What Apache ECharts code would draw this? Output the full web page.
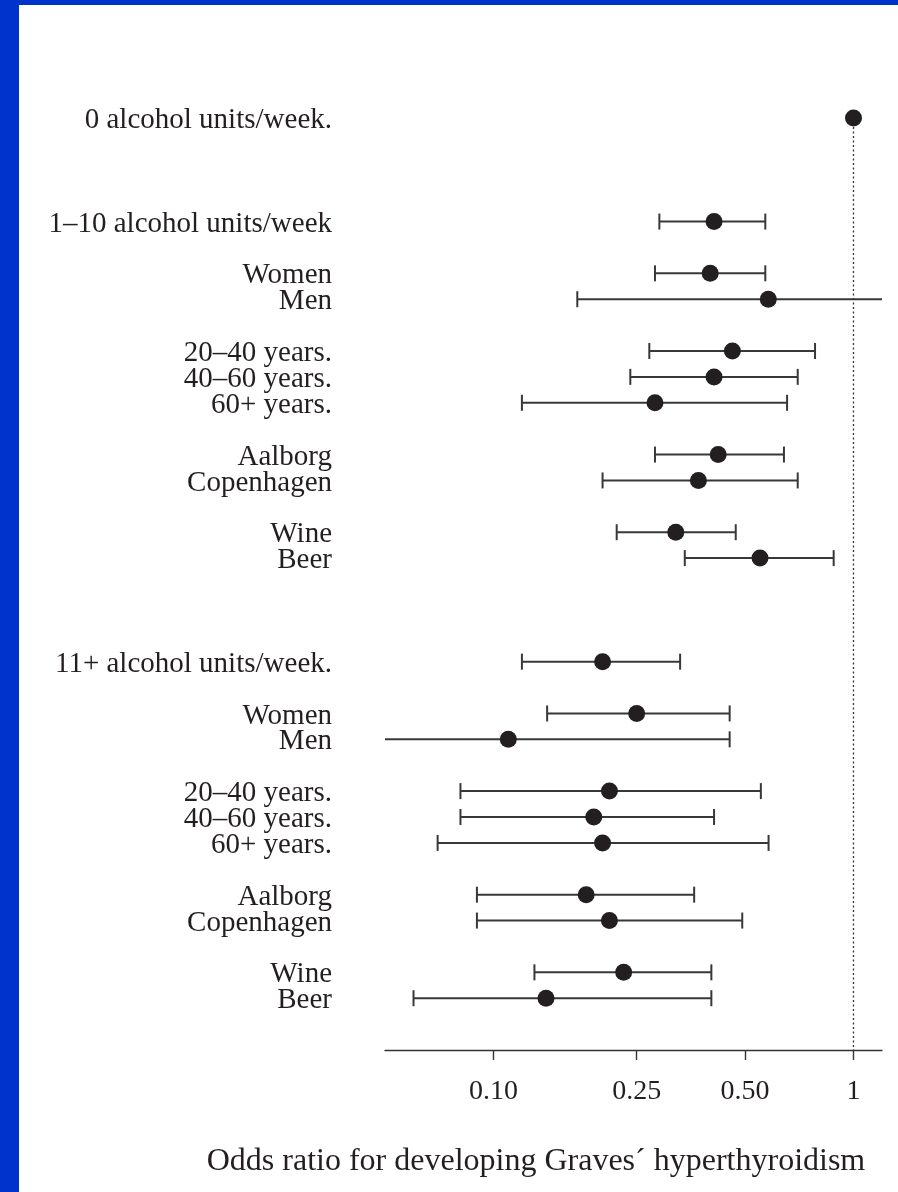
<!DOCTYPE html>
<html>
<head>
<meta charset="utf-8">
<script src="https://cdn.jsdelivr.net/npm/echarts@6/dist/echarts.min.js"></script>
<style>
  html, body { margin: 0; padding: 0; width: 898px; height: 1192px; overflow: hidden; background: #0033cc; }
  #chart { position: absolute; left: 19px; top: 5px; width: 879px; height: 1187px; background: #ffffff; }
</style>
</head>
<body>
<div id="chart"></div>
<script>
// Rows from top to bottom; '' rows are spacers between groups.
const rowLabels = [
  '0 alcohol units/week.', '', '', '',
  '1–10 alcohol units/week', '',
  'Women', 'Men', '',
  '20–40 years.', '40–60 years.', '60+ years.', '',
  'Aalborg', 'Copenhagen', '',
  'Wine', 'Beer', '', '', '',
  '11+ alcohol units/week.', '',
  'Women', 'Men', '',
  '20–40 years.', '40–60 years.', '60+ years.', '',
  'Aalborg', 'Copenhagen', '',
  'Wine', 'Beer', '', ''
];

// Odds ratios and 95% confidence limits, aligned with rowLabels (null = no estimate).
const oddsRatio = [
  1, null, null, null,
  0.410, null,
  0.400, 0.580, null,
  0.461, 0.410, 0.281, null,
  0.421, 0.371, null,
  0.321, 0.550, null, null, null,
  0.201, null,
  0.250, 0.110, null,
  0.210, 0.190, 0.201, null,
  0.181, 0.210, null,
  0.230, 0.140, null, null
];
const lowerCI = [
  null, null, null, null,
  0.289, null,
  0.281, 0.171, null,
  0.271, 0.240, 0.120, null,
  0.281, 0.201, null,
  0.220, 0.340, null, null, null,
  0.120, null,
  0.141, 0.045, null,
  0.081, 0.081, 0.070, null,
  0.090, 0.090, null,
  0.130, 0.060, null, null
];
const upperCI = [
  null, null, null, null,
  0.569, null,
  0.569, 1.350, null,
  0.782, 0.700, 0.654, null,
  0.641, 0.700, null,
  0.471, 0.881, null, null, null,
  0.330, null,
  0.453, 0.453, null,
  0.553, 0.410, 0.581, null,
  0.361, 0.491, null,
  0.403, 0.403, null, null
];

const tickValues = [0.10, 0.25, 0.50, 1];
const tickLabels = ['0.10', '0.25', '0.50', '1'];
const axisMin = 0.05;
const axisMax = 1.2;
const referenceOR = 1;
const axisTitle = 'Odds ratio for developing Graves´ hyperthyroidism';

// The x axis is logarithmic: values are placed on a linear axis in log10 units.
const lg = v => Math.log10(v);
const logTicks = tickValues.map(lg);

const points = [];
const intervals = [];
oddsRatio.forEach((or, i) => {
  if (or != null) points.push([lg(or), i]);
  if (lowerCI[i] != null && upperCI[i] != null) intervals.push([lg(lowerCI[i]), lg(upperCI[i]), i]);
});

const FONT = "'Liberation Serif', 'Times New Roman', serif";
const INK = '#231f20';

const chart = echarts.init(document.getElementById('chart'), null, { renderer: 'canvas' });

chart.setOption({
  animation: false,
  backgroundColor: '#ffffff',
  grid: { left: 366, right: 16, top: 113, bottom: 142, containLabel: false },
  xAxis: {
    type: 'value',
    min: lg(axisMin),
    max: lg(axisMax),
    splitLine: { show: false },
    axisLine: { show: true, onZero: false, lineStyle: { color: '#333333', width: 1.4 } },
    axisTick: { show: true, length: 10, inside: false, customValues: logTicks, lineStyle: { color: '#333333', width: 1.4 } },
    axisLabel: {
      customValues: logTicks,
      margin: 28,
      color: INK,
      fontFamily: FONT,
      fontSize: 28,
      formatter: v => {
        const k = logTicks.findIndex(t => Math.abs(t - v) < 1e-9);
        return k >= 0 ? tickLabels[k] : '';
      }
    }
  },
  yAxis: {
    type: 'category',
    data: rowLabels,
    inverse: true,
    boundaryGap: false,
    axisLine: { show: false },
    axisTick: { show: false },
    splitLine: { show: false },
    axisLabel: {
      interval: 0,
      margin: 53,
      align: 'right',
      formatter: v => (v ? '{row|' + v + '}' : ''),
      rich: {
        row: {
          color: INK,
          fontFamily: FONT,
          fontSize: 29,
          lineHeight: 29,
          padding: [5, 0, 0, 0]
        }
      }
    }
  },
  graphic: [{
    type: 'text',
    x: 517,
    y: 1157,
    style: {
      text: axisTitle,
      fill: INK,
      font: "32px 'Liberation Serif', 'Times New Roman', serif",
      textAlign: 'center',
      textVerticalAlign: 'middle'
    }
  }],
  series: [
    {
      // no-effect reference line at OR = 1
      type: 'line',
      data: [[lg(referenceOR), 0], [lg(referenceOR), rowLabels.length - 1]],
      symbol: 'none',
      silent: true,
      z: 1,
      lineStyle: { color: '#333333', width: 1.3, type: [2, 2.5] }
    },
    {
      // confidence intervals with end caps, clipped to the plot area
      type: 'custom',
      data: intervals,
      encode: { x: [0, 1], y: 2 },
      z: 2,
      renderItem: (params, api) => {
        const a = api.coord([api.value(0), api.value(2)]);
        const b = api.coord([api.value(1), api.value(2)]);
        const cs = params.coordSys;
        const x0 = Math.max(a[0], cs.x);
        const x1 = Math.min(b[0], cs.x + cs.width);
        const y = a[1];
        const style = { stroke: '#383838', lineWidth: 2 };
        const cap = 8;
        const children = [{ type: 'line', shape: { x1: x0, y1: y, x2: x1, y2: y }, style }];
        if (a[0] >= cs.x) children.push({ type: 'line', shape: { x1: a[0], y1: y - cap, x2: a[0], y2: y + cap }, style });
        if (b[0] <= cs.x + cs.width) children.push({ type: 'line', shape: { x1: b[0], y1: y - cap, x2: b[0], y2: y + cap }, style });
        return { type: 'group', children };
      }
    },
    {
      type: 'scatter',
      data: points,
      symbol: 'circle',
      symbolSize: 17,
      z: 3,
      itemStyle: { color: INK, opacity: 1 }
    }
  ]
});
</script>
</body>
</html>
